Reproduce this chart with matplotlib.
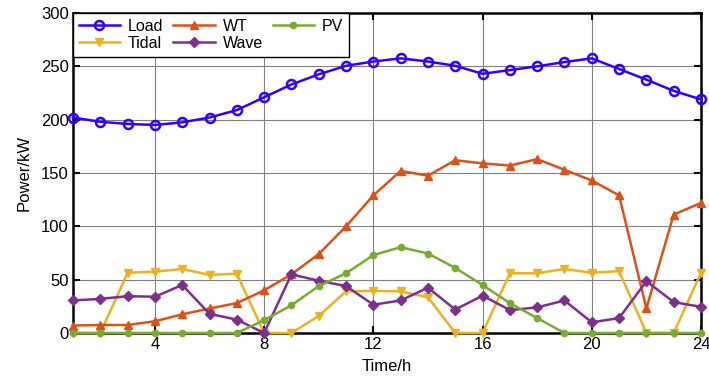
import numpy as np
import matplotlib.pyplot as plt

plt.rcParams['font.family'] = ['Liberation Sans', 'DejaVu Sans']

# Hourly power profiles (kW)
hours = np.arange(1, 25)
load = [202, 198, 196, 195, 197.5, 202, 209, 221, 233, 242.5, 250.5, 254.5,
        257.5, 254.5, 250.5, 243, 246.5, 250, 254, 257.5, 247.5, 237.5, 227, 219]
wt = [7, 7.5, 7.5, 11, 17.5, 23, 28, 40, 55, 74, 100, 129,
      152, 147.5, 162, 159, 157, 163, 153, 143, 129, 23, 111, 122]
pv = [0, 0, 0, 0, 0, 0, 0, 12, 26, 44, 56, 73,
      80.5, 74.5, 61, 45, 28, 14, 0, 0, 0, 0, 0, 0]
tidal = [0, 0, 56.5, 57.5, 60, 54.5, 55.5, 0, 0, 16, 39, 39.5,
         39, 33.5, 0, 0, 56, 56, 60, 56.5, 58, 0, 0, 56.5]
wave = [30.5, 32, 34.5, 34, 45, 18, 12.5, 0, 55, 49, 44, 26.5,
        30.5, 42.5, 22, 35, 21.5, 24, 30.5, 10, 14, 48.5, 29, 24.5]

fig = plt.figure(figsize=(7.09, 3.80), dpi=100)
ax = fig.add_axes([73 / 709, 1 - 333 / 380, 628 / 709, 320 / 380])

lw = 1.8
ax.plot(hours, load, '-o', color='#3300FF', lw=lw, ms=6.5, mfc='none', mew=1.8, label='Load', clip_on=False, zorder=6)
ax.plot(hours, wt, '-^', color='#D95319', lw=lw, ms=6, label='WT', clip_on=False, zorder=4)
ax.plot(hours, tidal, '-v', color='#EDB120', lw=lw, ms=6, label='Tidal', clip_on=False, zorder=3)
ax.plot(hours, wave, '-D', color='#7E2F8E', lw=lw, ms=5, label='Wave', clip_on=False, zorder=4)
ax.plot(hours, pv, '-o', color='#77AC30', lw=lw, ms=4.5, label='PV', clip_on=False, zorder=5)

ax.set_xlim(1, 24)
ax.set_ylim(0, 300)
ax.set_xticks([4, 8, 12, 16, 20, 24])
ax.set_yticks(np.arange(0, 301, 50))
ax.grid(True, color='#808080', lw=0.8)
ax.tick_params(direction='in', labelsize=12, length=5, width=1.5, top=True, right=True, pad=3)
for s in ax.spines.values():
    s.set_linewidth(1.8)
    s.set_zorder(2)

ax.set_xlabel('Time/h', fontsize=12, labelpad=5)
ax.set_ylabel('Power/kW', fontsize=12, labelpad=7)

handles, labels = ax.get_legend_handles_labels()
order = [0, 2, 1, 3, 4]
leg = ax.legend([handles[i] for i in order], [labels[i] for i in order],
                loc='upper left', ncol=3, fontsize=11.5, frameon=True, fancybox=False,
                edgecolor='black', framealpha=1, borderaxespad=0, handlelength=2.6,
                columnspacing=0.6, handletextpad=0.5, labelspacing=0.15, borderpad=0.35)
leg.get_frame().set_linewidth(1.0)
leg.set_zorder(10)

fig.savefig('out.png', dpi=100)
